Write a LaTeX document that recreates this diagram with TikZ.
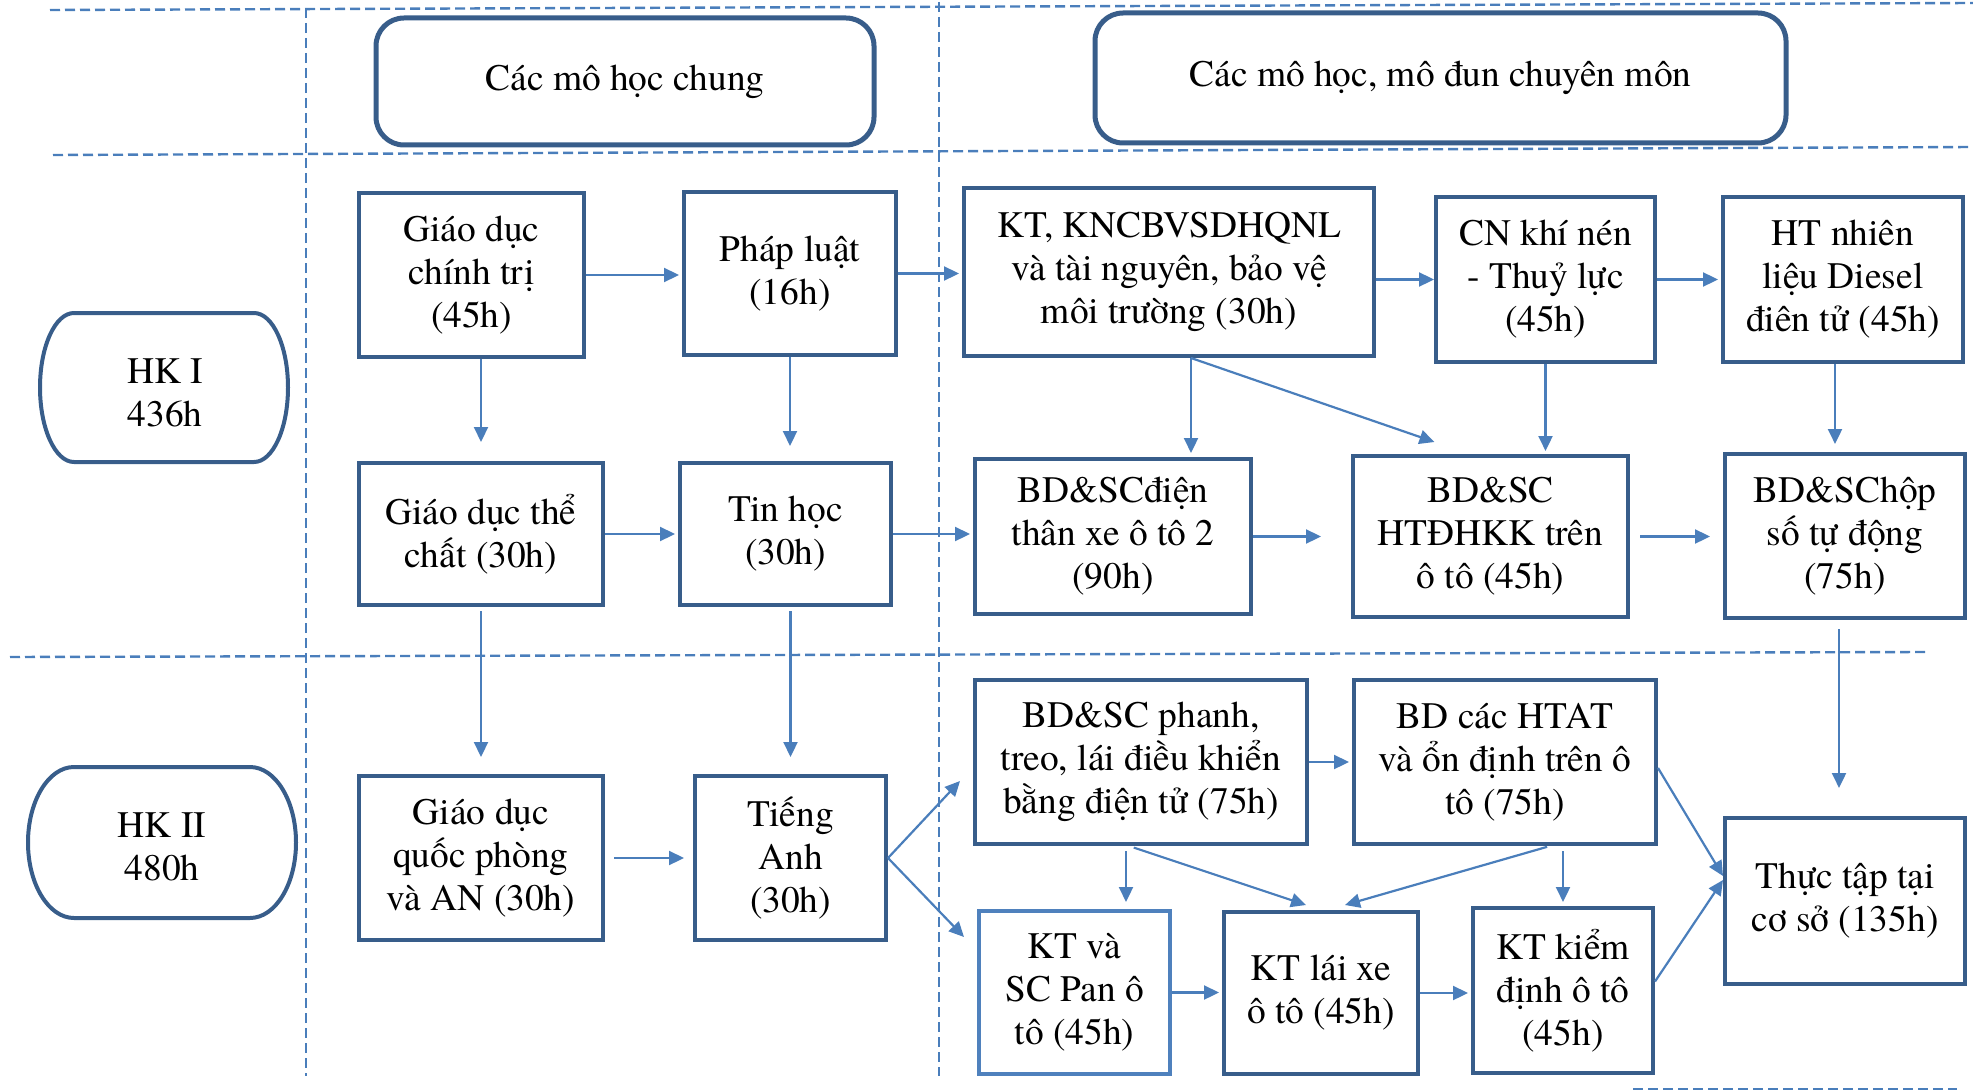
\documentclass[tikz,border=0pt]{standalone}
\usepackage{fontspec}
\setmainfont{texgyretermes}[Extension=.otf, UprightFont=*-regular, BoldFont=*-bold]
\usetikzlibrary{arrows.meta}
\definecolor{boxc}{HTML}{385D8A}
\definecolor{arrc}{HTML}{4A7EBB}
\definecolor{panc}{HTML}{4F81BD}

\begin{document}
\begin{tikzpicture}
  [x=0.5pt, y=-0.5pt,
   every node/.style={font=\fontsize{18.7}{21.5}\selectfont, align=center, inner sep=0pt},
   box/.style={draw=boxc, line width=2pt},
   bw/.style={minimum width=#1*0.5pt},
   bh/.style={minimum height=#1*0.5pt},
   head/.style={draw=boxc, line width=2.5pt, rounded corners=14pt},
   hk/.style={draw=boxc, line width=2pt},
   arr/.style={draw=arrc, line width=1.1pt, -{Triangle[length=7.5pt,width=7pt]}},
   grid/.style={draw=arrc, line width=0.8pt, dash pattern=on 5pt off 2.5pt}]
  \useasboundingbox (0,0) rectangle (1973,1091);

  % dashed grid
  \draw[grid, line width=1.2pt] (50,10) -- (1973,3);
  \draw[grid, line width=1.2pt] (53,155) -- (1973,147);
  \draw[grid, line width=1.2pt] (10,657) -- (1925,652);
  \draw[grid] (306,8) -- (306,1076);
  \draw[grid] (939,2) -- (939,1076);
  \draw[grid] (1633,1089) -- (1957,1089);

  % headers
  \node[head, bw=498, bh=127] (hdr1) at (625,81.5) {Các mô học chung};
  \node[head, bw=691, bh=130] (hdr2) at (1440.5,78) {Các mô học, mô đun chuyên môn};

  % semesters
  \node (hk1) at (165,393) {HK I\\436h};
  \draw[hk] (74,313) -- (254,313) arc[start angle=-90,end angle=90,x radius=34,y radius=74.5]
    -- (74,462) arc[start angle=90,end angle=270,x radius=34,y radius=74.5] -- cycle;
  \node (hk2) at (162,847) {HK II\\480h};
  \draw[hk] (74,767) -- (250,767) arc[start angle=-90,end angle=90,x radius=46,y radius=75.5]
    -- (74,918) arc[start angle=90,end angle=270,x radius=46,y radius=75.5] -- cycle;

  % HK I
  \node[box, bw=225, bh=164] (gdct) at (471.5,275) {Giáo dục\\chính trị\\(45h)};
  \node[box, bw=212, bh=163] (pl) at (790,273.5) {Pháp luật\\(16h)};
  \node[box, bw=410, bh=168] (kt) at (1169,272) {KT, KNCBVSDHQNL\\và tài nguyên, bảo vệ\\môi trường (30h)};
  \node[box, bw=219, bh=165] (cn) at (1545.5,279.5) {CN khí nén\\- Thuỷ lực\\(45h)};
  \node[box, bw=240, bh=165] (ht) at (1843,279.5) {HT nhiên\\liệu Diesel\\điên tử (45h)};
  \node[box, bw=244, bh=142] (gdtc) at (481,534) {Giáo dục thể\\chất (30h)};
  \node[box, bw=211, bh=142] (tin) at (785.5,534) {Tin học\\(30h)};
  \node[box, bw=276, bh=155] (bddien) at (1113,536.5) {BD\&SCđiện\\thân xe ô tô 2\\(90h)};
  \node[box, bw=275, bh=161] (hvac) at (1490.5,536.5) {BD\&SC\\HTĐHKK trên\\ô tô (45h)};
  \node[box, bw=240, bh=164] (hopso) at (1845,536) {BD\&SChộp\\số tự động\\(75h)};

  % HK II
  \node[box, bw=244, bh=164] (gdqp) at (481,858) {Giáo dục\\quốc phòng\\và AN (30h)};
  \node[box, bw=191, bh=164] (ta) at (790.5,858) {Tiếng\\Anh\\(30h)};
  \node[box, bw=332, bh=164] (phanh) at (1141,762) {BD\&SC phanh,\\treo, lái điều khiển\\bằng điện tử (75h)};
  \node[box, bw=302, bh=164] (htat) at (1505,762) {BD các HTAT\\và ổn định trên ô\\tô (75h)};
  \node[box, draw=panc, bw=191, bh=163] (pan) at (1074.5,992.5) {KT và\\SC Pan ô\\tô (45h)};
  \node[box, bw=194, bh=162] (lai) at (1321,993) {KT lái xe\\ô tô (45h)};
  \node[box, bw=180, bh=165] (kd) at (1563,990.5) {KT kiểm\\định ô tô\\(45h)};
  \node[box, bw=240, bh=166] (tt) at (1845,901) {Thực tập tại\\cơ sở (135h)};

  % arrows
  \foreach \from/\to in {gdct/pl, pl/kt, cn/ht, gdtc/tin, tin/bddien, phanh/htat, pan/lai, lai/kd}
    \draw[arr, shorten >=1.5pt] (\from.east) -- (\to.west |- \from.east);
  \draw[arr] (kt.east |- cn.west) -- (cn.west);
  \draw[arr, shorten >=15pt] (bddien.east) -- (hvac.west |- bddien.east);
  \draw[arr, shorten <=5pt, shorten >=6.5pt] (hvac.east) -- (hopso.west |- hvac.east);
  \draw[arr, shorten <=4.5pt, shorten >=4.5pt] (gdqp.east) -- (ta.west |- gdqp.east);

  \draw[arr, shorten >=9.5pt] (gdct.south -| gdtc.north) -- (gdtc.north);
  \draw[arr, shorten >=7.5pt] (pl.south) -- (pl.south |- tin.north);
  \draw[arr, shorten <=2pt, shorten >=8.5pt] (gdtc.south) -- (gdqp.north);
  \draw[arr, shorten <=2pt, shorten >=8.5pt] (tin.south -| ta.north) -- (ta.north);
  \draw[arr, shorten >=2pt] ([xshift=11pt]kt.south) -- ([xshift=11pt]kt.south |- bddien.north);
  \draw[arr] ([xshift=11pt]kt.south) -- ([xshift=-28pt,yshift=6pt]hvac.north);
  \draw[arr, shorten >=1.5pt] (cn.south) -- (cn.south |- hvac.north);
  \draw[arr, shorten >=4pt] ([xshift=-4pt]ht.south) -- ([xshift=-4pt]ht.south |- hopso.north);
  \draw[arr, shorten <=4.5pt, shorten >=14pt] ([xshift=-3pt]hopso.south) -- ([xshift=-3pt]hopso.south |- tt.north);

  \draw[arr] (ta.east) -- ([xshift=-6.5pt,yshift=-9.5pt]phanh.west);
  \draw[arr] (ta.east) -- ([xshift=-6.5pt,yshift=27.75pt]pan.west);
  \draw[arr, shorten <=2.5pt, shorten >=3.5pt] ([xshift=-7.5pt]phanh.south) -- ([xshift=-7.5pt]phanh.south |- pan.north);
  \draw[arr, shorten <=2.5pt] ([xshift=-6pt]phanh.south) -- ([xshift=-7.5pt,yshift=2.5pt]lai.north);
  \draw[arr, shorten <=1.5pt] ([xshift=22.5pt]htat.south) -- ([xshift=12pt,yshift=2.5pt]lai.north);
  \draw[arr, shorten <=2.5pt, shorten >=2pt] (htat.south -| kd.north) -- (kd.north);
  \draw[arr] ([yshift=-3pt]htat.east) -- ([yshift=12.5pt]tt.west);
  \draw[arr] ([yshift=4.5pt]kd.east) -- ([yshift=10.5pt]tt.west);
\end{tikzpicture}
\end{document}
